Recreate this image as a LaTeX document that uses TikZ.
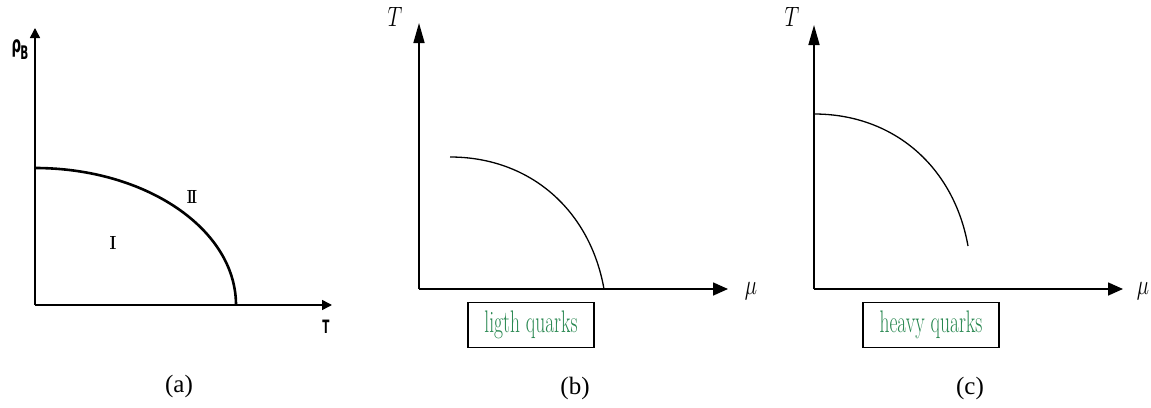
\documentclass[tikz,border=0pt]{standalone}
\usepackage{fontspec}
\usetikzlibrary{arrows.meta}
\newfontfamily\capfont{Liberation Serif}
\newfontfamily\dvs{DejaVu Sans}
\definecolor{qgreen}{RGB}{40,135,80}
\tikzset{
  axisA/.style={line width=1.5pt, -{Triangle[length=10pt,width=10pt]}},
  axisB/.style={line width=1.6pt, -{Triangle[length=15pt,width=13pt]}},
  axisBy/.style={line width=1.6pt, -{Triangle[length=20pt,width=11pt]}},
  curveA/.style={line width=2.6pt},
  curveB/.style={line width=1.3pt},
  qbox/.style={draw, line width=1.6pt, minimum width=126pt, minimum height=45pt, inner sep=0pt, text=qgreen},
  caption/.style={font=\capfont\fontsize{25}{25}\selectfont},
  mathlbl/.style={inner sep=0pt},
}
\newcommand{\qtext}[1]{\scalebox{1}[1.6]{\fontsize{19.5}{19.5}\selectfont #1}}
\newcommand{\mlbl}[1]{\scalebox{1}[1.35]{\fontsize{20}{20}\selectfont $#1$}}
\begin{document}
\begin{tikzpicture}[x=1pt,y=-1pt]
\useasboundingbox (0,0) rectangle (1151,407);
% ---------- panel (a)
\coordinate (ao) at (35,305);
\coordinate (ay) at (35,28);
\coordinate (ax) at (332,305);
\draw[axisA] (ao) -- (ay);
\draw[axisA] (ao) -- (ax);
\draw[curveA] (35,168) arc[start angle=-90, end angle=0, x radius=201, y radius=137];
\node[inner sep=0pt] (rhoB) at (20,50) {\dvs\bfseries\scalebox{0.7}[1.2]{\fontsize{19}{19}\selectfont ρ}\kern-1pt\raisebox{-7pt}{\scalebox{0.7}[1.25]{\fontsize{15}{15}\selectfont B}}};
\node[inner sep=0pt] (TA) at (326,327) {\dvs\bfseries\scalebox{0.65}[1.15]{\fontsize{16}{16}\selectfont T}};
\node[inner sep=0pt] (regI) at (113,243) {\bfseries\scalebox{0.85}[1]{\fontsize{19}{19}\selectfont I}};
\node[inner sep=0pt] (regII) at (192,197) {\bfseries\scalebox{0.75}[1]{\fontsize{19}{19}\selectfont I\kern-2.5pt I}};
\node[caption] (capa) at (179,386) {(a)};
% ---------- panel (b)
\coordinate (bo) at (419,289);
\coordinate (by) at (419,23);
\coordinate (bx) at (728,289);
\draw[axisBy] (bo) -- (by);
\draw[axisB] (bo) -- (bx);
\draw[curveB] (450,157) .. controls (530,157) and (590,210) .. (604,289);
\node[mathlbl] (TB) at (395,17) {\mlbl{T}};
\node[mathlbl] (muB) at (751,291) {\mlbl{\mu}};
\node[qbox] (boxB) at (531,325) {\qtext{ligth quarks}};
\node[caption] (capb) at (575,388) {(b)};
% ---------- panel (c)
\coordinate (co) at (814,289);
\coordinate (cy) at (814,25);
\coordinate (cx) at (1123,289);
\draw[axisBy] (co) -- (cy);
\draw[axisB] (co) -- (cx);
\draw[curveB] (814,114) .. controls (894,114) and (954,167) .. (968,246);
\node[mathlbl] (TC) at (792,17) {\mlbl{T}};
\node[mathlbl] (muC) at (1143,291) {\mlbl{\mu}};
\node[qbox, minimum width=136pt] (boxC) at (931,325) {\qtext{heavy quarks}};
\node[caption] (capc) at (970,388) {(c)};
\end{tikzpicture}
\end{document}
